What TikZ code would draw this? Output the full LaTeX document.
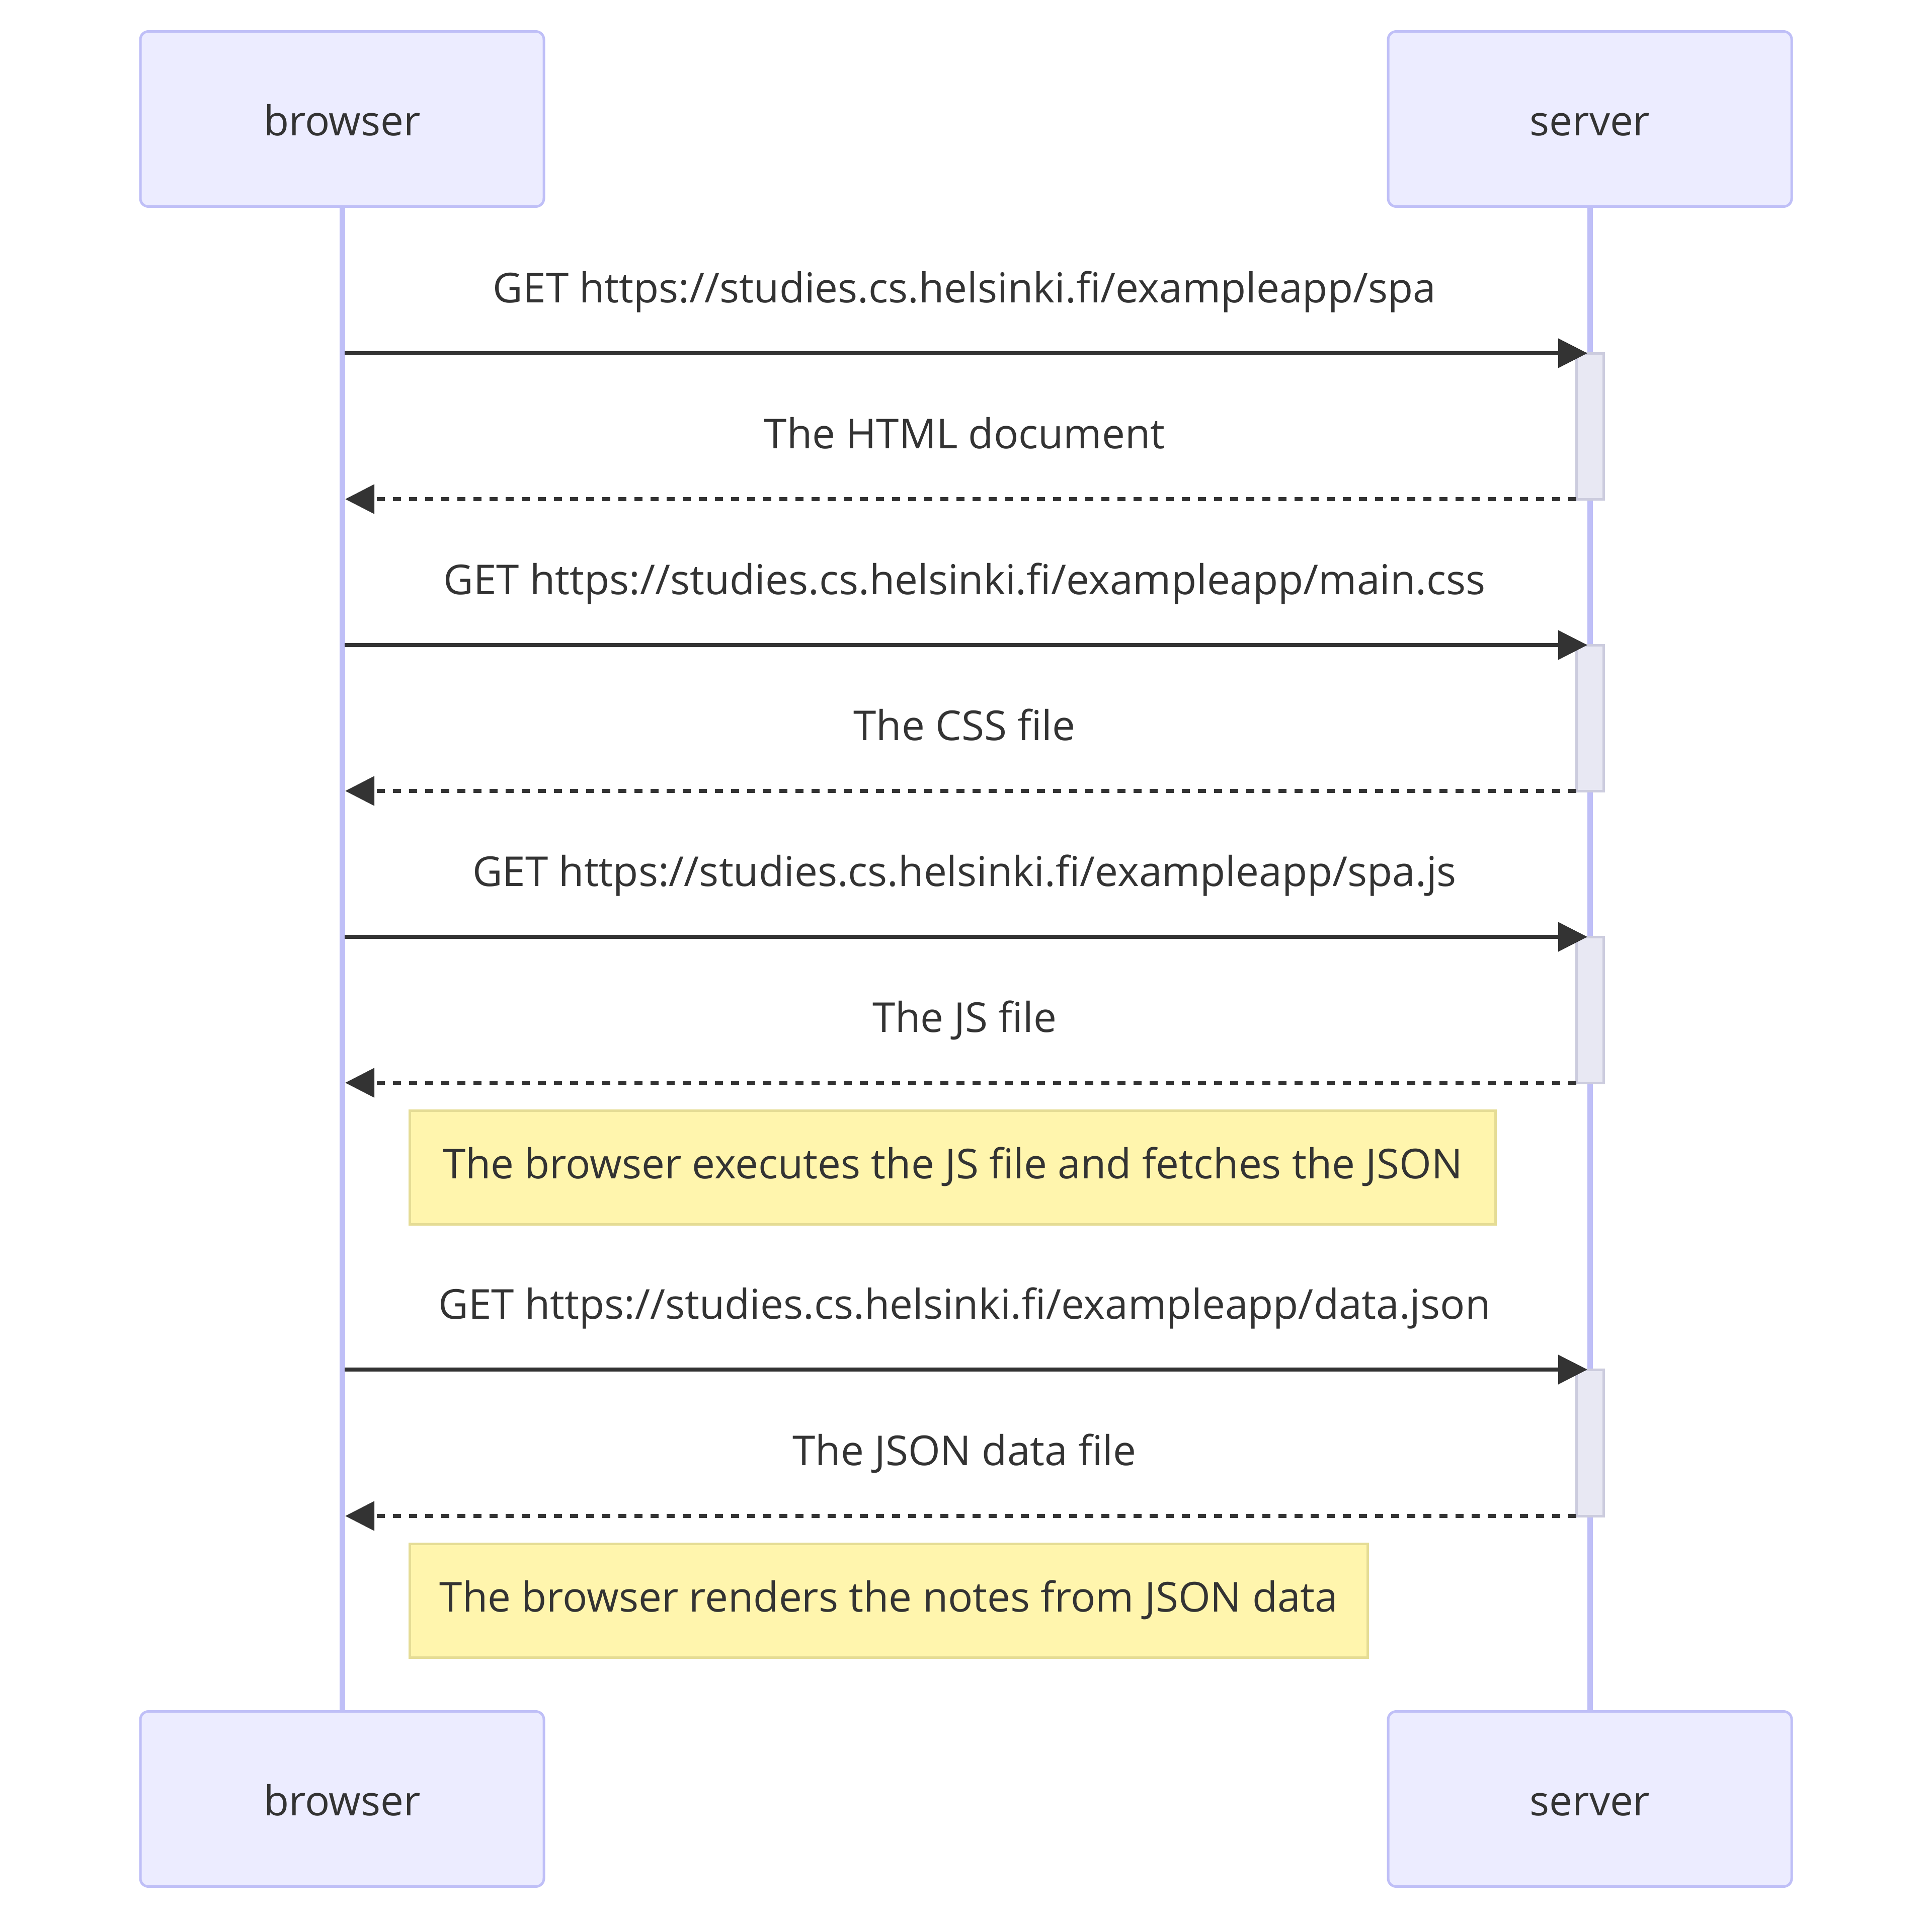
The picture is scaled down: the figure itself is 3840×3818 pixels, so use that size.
\documentclass[tikz,border=0pt]{standalone}
\usepackage{fontspec}
\setmainfont{Open Sans}
\usetikzlibrary{arrows.meta}
\definecolor{actorfill}{HTML}{ECECFF}
\definecolor{actorline}{HTML}{BFBFF7}
\definecolor{actfill}{HTML}{E8E8F3}
\definecolor{actline}{HTML}{CCCCDE}
\definecolor{notefill}{HTML}{FFF5AD}
\definecolor{noteline}{HTML}{E5DC95}
\definecolor{ink}{HTML}{333333}
\begin{document}
\begin{tikzpicture}[x=0.1mm,y=-0.1mm,
  font=\fontsize{23.3pt}{28pt}\selectfont,
  actor/.style={draw=actorline, fill=actorfill, line width=0.5mm, rounded corners=1.6mm,
    minimum width=80.2mm, minimum height=34.8mm, inner sep=0pt, text=ink,
    text height=6.6mm, text depth=0mm},
  lifeline/.style={draw=actorline, line width=1.1mm},
  actbox/.style={draw=actline, fill=actfill, line width=0.5mm, minimum width=5.4mm, inner sep=0pt},
  msg/.style={draw=ink, line width=0.8mm, -{Triangle[length=5.8mm, width=5.7mm]}},
  reply/.style={msg, dash pattern=on 1.6mm off 1.6mm},
  lbl/.style={anchor=base, text=ink, inner sep=0pt},
  note/.style={draw=noteline, fill=notefill, line width=0.5mm, inner sep=0pt, text=ink,
    minimum height=22.6mm, text height=4.4mm, text depth=0mm}
]
\useasboundingbox (0,0) rectangle (3840,3818);
\fill[white] (0,0) rectangle (3840,3818);

% actors
\node[actor] (bt) at (680,236.5) {browser};
\node[actor] (st) at (3160,236.5) {server};
\node[actor] (bb) at (680,3575.5) {browser};
\node[actor] (sb) at (3160,3575.5) {server};

% lifelines
\draw[lifeline] (bt.south) -- (bb.north);
\draw[lifeline] (st.south) -- (sb.north);

% activations
\node[actbox, minimum height=29mm] (a1) at (3160,847) {};
\node[actbox, minimum height=29mm] (a2) at (3160,1427) {};
\node[actbox, minimum height=29mm] (a3) at (3160,2007) {};
\node[actbox, minimum height=29.1mm] (a4) at (3160,2867.5) {};

% message end points
\coordinate (m1s) at (685,702);  \coordinate (m1e) at (3155,702);
\coordinate (m2s) at (3133,992); \coordinate (m2e) at (686,992);
\coordinate (m3s) at (685,1282); \coordinate (m3e) at (3155,1282);
\coordinate (m4s) at (3133,1572);\coordinate (m4e) at (686,1572);
\coordinate (m5s) at (685,1862); \coordinate (m5e) at (3155,1862);
\coordinate (m6s) at (3133,2152);\coordinate (m6e) at (686,2152);
\coordinate (m7s) at (685,2722); \coordinate (m7e) at (3155,2722);
\coordinate (m8s) at (3133,3013);\coordinate (m8e) at (686,3013);

\draw[msg] (m1s) -- (m1e);
\draw[reply] (m2s) -- (m2e);
\draw[msg] (m3s) -- (m3e);
\draw[reply] (m4s) -- (m4e);
\draw[msg] (m5s) -- (m5e);
\draw[reply] (m6s) -- (m6e);
\draw[msg] (m7s) -- (m7e);
\draw[reply] (m8s) -- (m8e);

% labels
\node[lbl] (l1) at (1917,601) {GET https://studies.cs.helsinki.fi/exampleapp/spa};
\node[lbl] (l2) at (1917,891) {The HTML document};
\node[lbl] (l3) at (1917,1181) {GET https://studies.cs.helsinki.fi/exampleapp/main.css};
\node[lbl] (l4) at (1917,1471) {The CSS file};
\node[lbl] (l5) at (1917,1761) {GET https://studies.cs.helsinki.fi/exampleapp/spa.js};
\node[lbl] (l6) at (1917,2051) {The JS file};
\node[lbl] (l7) at (1917,2621) {GET https://studies.cs.helsinki.fi/exampleapp/data.json};
\node[lbl] (l8) at (1917,2912) {The JSON data file};

% notes
\node[note, minimum width=215.8mm] (n1) at (1893.5,2320.5) {The browser executes the JS file and fetches the JSON};
\node[note, minimum width=190.4mm] (n2) at (1766.5,3181) {The browser renders the notes from JSON data};
\end{tikzpicture}
\end{document}
